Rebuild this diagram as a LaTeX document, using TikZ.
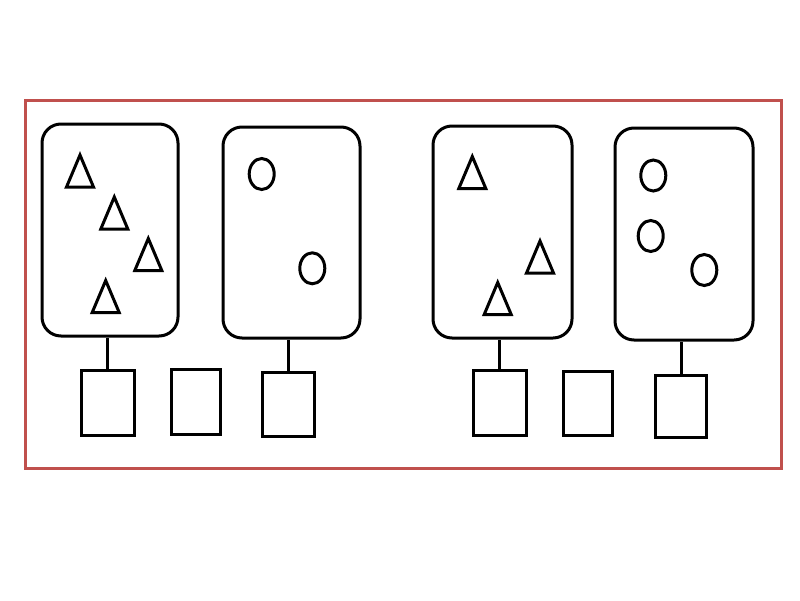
\documentclass[tikz,border=0pt]{standalone}
\usetikzlibrary{positioning}
\definecolor{framered}{RGB}{192,80,77}
\begin{document}
\begin{tikzpicture}[x=1pt,y=-1pt,
  panel/.style={draw=black,line width=3pt,rounded corners=19pt,minimum width=#1,inner sep=0pt},
  panel/.default=137pt,
  slot/.style={draw=black,line width=3pt,inner sep=0pt},
  link/.style={draw=black,line width=3pt},
  shp/.style={draw=black,line width=3pt,line join=miter},
  tri/.pic={\draw[shp] (0,0) -- (-13.5,32) -- (13.5,32) -- cycle;},
]
\useasboundingbox (0,0) rectangle (800,600);
\draw[framered,line width=3pt] (25,100) rectangle (781,468);

% panels
\node[panel=136pt,minimum height=212pt] (p1) at (110,230) {};
\node[panel=137pt,minimum height=211pt] (p2) at (291.5,232.5) {};
\node[panel=139pt,minimum height=212pt] (p3) at (502.5,232) {};
\node[panel=138pt,minimum height=212pt] (p4) at (684,234) {};

% boxes
\node[slot,minimum width=53pt,minimum height=65pt] (b1) at (107.5,402.5) {};
\node[slot,minimum width=49pt,minimum height=65pt] (b2) at (196.3,401.5) {};
\node[slot,minimum width=52pt,minimum height=64pt] (b3) at (288.8,404.7) {};
\node[slot,minimum width=53pt,minimum height=65pt] (b4) at (499.6,403.3) {};
\node[slot,minimum width=49pt,minimum height=64pt] (b5) at (588.3,403) {};
\node[slot,minimum width=51pt,minimum height=62pt] (b6) at (681.2,406.2) {};

% connectors
\draw[link] (b1.north) -- (b1.north |- p1.south);
\draw[link] (b3.north) -- (b3.north |- p2.south);
\draw[link] (b4.north) -- (b4.north |- p3.south);
\draw[link] (b6.north) -- (b6.north |- p4.south);

% triangles
\pic at (80,155) {tri};
\pic at (114.3,197) {tri};
\pic at (148.3,238.5) {tri};
\pic at (105.7,280.5) {tri};
\pic at (472.3,156.5) {tri};
\pic at (540,241) {tri};
\pic at (497.7,282.5) {tri};

% circles
\draw[shp] (261.7,174) ellipse [x radius=12.5pt,y radius=15.5pt];
\draw[shp] (312.3,268.3) ellipse [x radius=12.5pt,y radius=15.5pt];
\draw[shp] (653.3,175.5) ellipse [x radius=12.5pt,y radius=15.5pt];
\draw[shp] (650.7,236) ellipse [x radius=12.5pt,y radius=15.5pt];
\draw[shp] (704.3,270) ellipse [x radius=12.5pt,y radius=15.5pt];
\end{tikzpicture}
\end{document}
